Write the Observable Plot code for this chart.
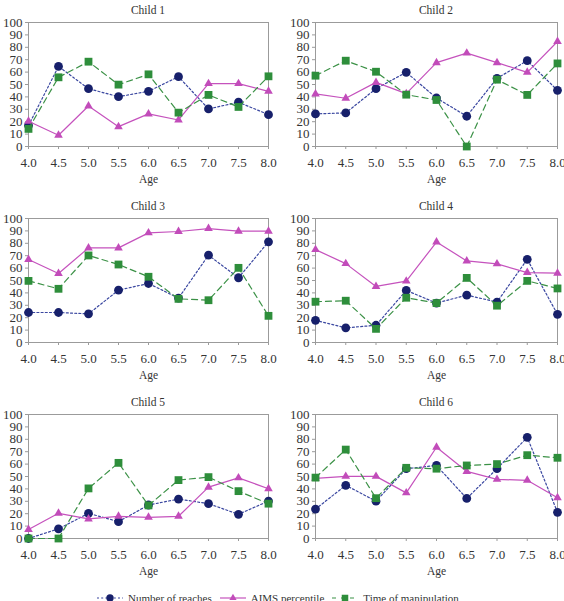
<!DOCTYPE html>
<html><head><meta charset="utf-8">
<script src="https://cdn.jsdelivr.net/npm/d3@7"></script>
<script src="https://cdn.jsdelivr.net/npm/@observablehq/plot@0.6"></script>
<style>
body{margin:0;background:#fff;}
#root{position:relative;width:564px;height:601px;overflow:hidden;font-family:"Liberation Serif","Times New Roman",serif;color:#333;background:#fff;}
.panel{position:absolute;width:282px;height:196px;}
.panel svg{position:absolute;left:0;top:0;overflow:visible;}
.ptitle{position:absolute;top:3px;font-size:11.5px;line-height:14px;text-align:center;white-space:nowrap;}
.legend{position:absolute;top:591px;left:97px;display:flex;align-items:center;font-size:11px;line-height:14px;white-space:nowrap;}
.legend .item{display:flex;align-items:center;margin-right:8px;}
.legend svg{margin-right:5px;}
</style></head><body><div id="root"></div>
<script>
const ages = [4.0, 4.5, 5.0, 5.5, 6.0, 6.5, 7.0, 7.5, 8.0];
const children = ["Child 1", "Child 2", "Child 3", "Child 4", "Child 5", "Child 6"];
const seriesNames = ["Number of reaches", "AIMS percentile", "Time of manipulation"];
const yTicks = [0, 10, 20, 30, 40, 50, 60, 70, 80, 90, 100];
const xAxisLabel = "Age";

const reaches = [
  [17, 64.6, 46.6, 40.2, 44.5, 56.3, 30.3, 35.7, 25.7],
  [26.3, 27.1, 46.6, 59.8, 39.1, 24.4, 55, 69.2, 45.3],
  [24.2, 24.2, 23.1, 42.2, 47.6, 35.8, 70.4, 52.2, 81.2],
  [17.9, 11.8, 13.9, 42, 31.8, 38.2, 32.6, 67.1, 22.7],
  [0, 7.8, 20.3, 13.6, 27, 31.8, 28.1, 19.5, 30.2],
  [23.7, 42.9, 30.1, 56.3, 58.9, 32.3, 56.3, 81.6, 21.1]
];
const aims = [
  [20.4, 9.1, 32.7, 16, 26.3, 21.4, 50.7, 50.7, 44.5],
  [42.4, 38.9, 51.7, 42.6, 67.6, 75.3, 67.6, 59.8, 84.7],
  [66.9, 55.6, 76.3, 76.3, 88.4, 89.5, 91.9, 89.8, 89.8],
  [74.9, 63.6, 45.2, 49.5, 81, 65.8, 63.4, 56.4, 55.9],
  [7.2, 20.3, 15.8, 17.9, 17.1, 17.9, 41.4, 48.9, 40.1],
  [48.5, 50.1, 50.1, 36.8, 73.6, 54.1, 47.7, 46.9, 32.8]
];
const manipulation = [
  [14.2, 55.8, 68.4, 49.9, 58.2, 27.3, 41.6, 31.9, 56.6],
  [57.1, 69.2, 60.3, 41.8, 37.5, 0, 53.9, 41.6, 67],
  [49.7, 43.3, 70.2, 62.9, 53, 35.2, 34.1, 60.2, 21.5],
  [32.9, 33.7, 11, 36.1, 31.8, 52.1, 29.7, 49.7, 43.6],
  [0, 0, 40.4, 61, 26.7, 47.1, 49.5, 38.2, 28.1],
  [49.1, 71.7, 32.5, 57, 56.3, 58.9, 60, 67.2, 65.1]
];

const seriesValues = [reaches, aims, manipulation];
const styles = [
  {stroke: "#3a47a0", dash: "2,2.2", fill: "#17206b", symbol: "circle", r: 4.4},
  {stroke: "#c552bd", dash: null, fill: "#c24cba", symbol: "triangle", r: 3.2},
  {stroke: "#3b9146", dash: "6,4", fill: "#2e8e3b", symbol: "square", r: 4.4}
];

const root = document.getElementById("root");

children.forEach((name, c) => {
  const col = c % 2, row = Math.floor(c / 2);
  const mL = col === 0 ? 28 : 33;
  const mR = col === 0 ? 14 : 7;
  const panel = document.createElement("div");
  panel.className = "panel";
  panel.style.left = (col * 282) + "px";
  panel.style.top = (row * 196) + "px";

  const marks = [Plot.frame({stroke: "#9b9b9b"})];
  marks.push(Plot.axisY({ticks: yTicks, tickSize: 3, tickPadding: 3, fontSize: 13, label: null, stroke: "#9b9b9b", fill: "#333"}));
  marks.push(Plot.axisX({ticks: ages, tickFormat: d3.format(".1f"), tickSize: 3, tickPadding: 8, fontSize: 13, label: null, stroke: "#9b9b9b", fill: "#333"}));
  marks.push(Plot.text([xAxisLabel], {frameAnchor: "bottom", dy: 36, fontSize: 11.5, fill: "#333"}));

  seriesNames.forEach((s, k) => {
    const data = ages.map((a, i) => ({age: a, value: seriesValues[k][c][i], series: s}));
    const st = styles[k];
    marks.push(Plot.line(data, {x: "age", y: "value", stroke: st.stroke, strokeWidth: 1.2, strokeDasharray: st.dash}));
    marks.push(Plot.dot(data, {x: "age", y: "value", symbol: st.symbol, r: st.r, fill: st.fill, stroke: "none"}));
  });

  const chart = Plot.plot({
    width: 282, height: 196,
    marginTop: 22, marginBottom: 50, marginLeft: mL, marginRight: mR,
    x: {domain: [4, 8]},
    y: {domain: [0, 100]},
    style: {fontFamily: "'Liberation Serif','Times New Roman',serif", background: "transparent", color: "#333", overflow: "visible"},
    marks
  });
  panel.appendChild(chart);

  const t = document.createElement("div");
  t.className = "ptitle";
  t.textContent = name;
  t.style.left = mL + "px";
  t.style.width = (282 - mL - mR) + "px";
  panel.appendChild(t);
  root.appendChild(panel);
});

// legend
const legend = document.createElement("div");
legend.className = "legend";
seriesNames.forEach((s, k) => {
  const st = styles[k];
  const item = document.createElement("div");
  item.className = "item";
  const ns = "http://www.w3.org/2000/svg";
  const sw = document.createElementNS(ns, "svg");
  sw.setAttribute("width", 26); sw.setAttribute("height", 10);
  const ln = document.createElementNS(ns, "line");
  ln.setAttribute("x1", 0); ln.setAttribute("x2", 26); ln.setAttribute("y1", 5); ln.setAttribute("y2", 5);
  ln.setAttribute("stroke", st.stroke); ln.setAttribute("stroke-width", 1.2);
  if (st.dash) ln.setAttribute("stroke-dasharray", k === 2 ? "4,5" : st.dash);
  sw.appendChild(ln);
  const sym = document.createElementNS(ns, "path");
  const symType = {circle: d3.symbolCircle, triangle: d3.symbolTriangle, square: d3.symbolSquare}[st.symbol];
  sym.setAttribute("d", d3.symbol(symType, Math.PI * st.r * st.r * 0.7)());
  sym.setAttribute("transform", "translate(13,5)");
  sym.setAttribute("fill", st.fill);
  sw.appendChild(sym);
  item.appendChild(sw);
  const tx = document.createElement("span");
  tx.textContent = s;
  item.appendChild(tx);
  legend.appendChild(item);
});
root.appendChild(legend);
</script></body></html>
